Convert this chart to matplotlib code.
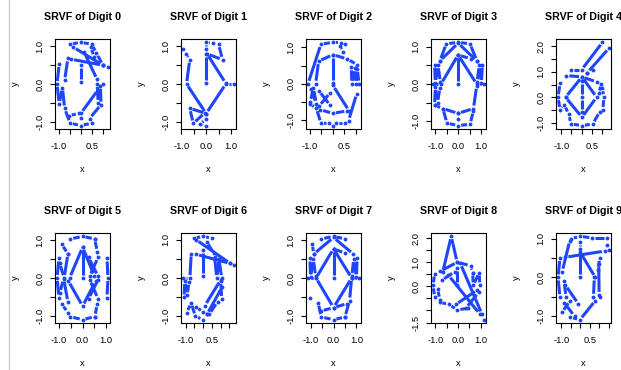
import numpy as np
import matplotlib
matplotlib.use('Agg')
import matplotlib.pyplot as plt
from matplotlib.collections import LineCollection
from matplotlib.ticker import MultipleLocator, FuncFormatter
from matplotlib.lines import Line2D

plt.rcParams['font.family'] = ['Liberation Sans', 'DejaVu Sans']

# SRVF values per digit, None = break between strokes
srvf0 = [(-0.5, 1.06), (0.0, 1.11), (0.5, 1.06), (0.72, 0.82), (1.02, 0.5), None,
         (-0.35, 0.98), (1.02, 0.5), (-0.45, 0.66), None,
         (1.02, 0.5), (1.25, 0.44), None,
         (0.0, 0.04), (0.0, 0.5), None,
         (0.15, 0.85), (0.75, 0.12), None,
         (0.45, 0.98), (0.62, 0.72), None,
         (1.04, 0.0), (0.75, 0.0), (0.8, -0.5), (0.9, -0.05), (0.93, -0.55), (0.4, -0.92),
         (0.5, -1.04), (0.0, -1.11), (-0.5, -1.04), (-0.75, -0.65), (-0.85, -0.1),
         (-1.0, -0.53), (-1.1, 0.0), (-1.0, 0.53), None,
         (-0.6, 0.68), (-0.75, 0.1), None,
         (0.0, -0.78), (0.8, -0.15), None,
         (-0.55, -0.85), (-0.1, -0.78), (0.0, -0.9)]

srvf1 = [(-0.93, 0.93), (-0.8, 0.8), (-0.66, 0.64), (-0.79, 0.0), (0.0, -0.78), (-0.66, -0.64),
         (-0.52, -1.04), (-0.05, -0.76), None,
         (-0.02, -0.93), (-0.25, -1.06), (0.0, -1.1), None,
         (0.0, -0.78), (0.79, 0.0), (1.12, 0.0), None,
         (0.79, 0.02), (0.03, 0.8), (0.66, 0.64), (0.5, 1.05), (0.27, 1.08), (0.0, 1.1),
         (0.0, 0.93), (0.0, 0.78), (0.0, 0.03)]

srvf2 = [(0.0, 0.01), (0.0, 0.8), (-0.62, 0.62), (-0.75, 0.0), None,
         (-1.08, 0.0), (-0.52, 1.09), (0.0, 1.14), (0.35, 1.13), (0.52, 1.1), None,
         (0.0, 0.8), (0.62, 0.68), (1.06, 0.52), None,
         (0.3, 1.05), (0.45, 0.88), None,
         (0.8, 0.45), (0.82, 0.0), (0.96, 0.42), (1.0, 0.0), (1.06, 0.4), (1.13, 0.0), None,
         (1.03, -0.28), (0.68, -1.02), (0.52, -1.1), (0.15, -1.1), (0.0, -1.16), (-0.15, -1.1),
         (-0.52, -1.09), (-0.72, -0.68), (-1.0, -0.56), None,
         (-0.95, -0.15), (-0.72, -0.55), (-0.85, -0.12), (-0.98, -0.5), None,
         (-0.6, -0.2), (-0.12, -0.6), None,
         (-0.6, -0.62), (-0.12, -0.25), None,
         (-0.55, -0.72), (0.0, -0.82), (0.62, -0.75), None,
         (0.0, -0.05), (0.7, -0.75)]

srvf3 = [(0.0, 0.01), (0.0, 0.78), (0.81, 0.0), (1.13, 0.0), None,
         (0.0, 0.78), (-0.75, 0.0), (-1.1, 0.0), None,
         (-1.03, 0.52), (-1.0, 0.03), (-0.88, 0.5), (-0.78, 0.05), None,
         (1.06, 0.52), (1.02, 0.03), (0.92, 0.5), (0.83, 0.05), None,
         (-0.8, 0.62), (-0.52, 1.08), (0.0, 1.12), (0.52, 1.08), (0.82, 0.62), None,
         (-0.8, 0.62), (0.0, 1.1), (0.82, 0.62), None,
         (0.0, 0.78), (0.55, 0.68), None,
         (-1.03, -0.57), (-1.0, -0.08), (-0.9, -0.5), (-0.8, -0.1), None,
         (-1.03, -0.57), (-0.67, -0.66), (-0.49, -1.05), (0.0, -1.12), (0.52, -1.08), (0.67, -0.72), None,
         (-0.67, -0.66), (0.0, -0.79), (0.67, -0.66), (0.81, -0.05), None,
         (0.0, -0.79), (0.0, -0.95)]

srvf4 = [(-0.52, 1.08), (0.0, 1.08), (1.03, 2.16), None,
         (0.29, 0.97), (1.35, 1.93), None,
         (0.29, 0.97), (0.55, 1.08), None,
         (-0.75, 0.85), (0.02, 0.8), (0.75, 0.6), None,
         (-1.06, 0.55), (-1.16, 0.0), (-1.06, -0.5), (-0.85, -0.3), (-0.63, -0.67), (-0.52, -1.05),
         (0.02, -1.12), (0.55, -1.05), (0.9, -0.57), None,
         (-0.79, 0.0), (0.02, 0.8), (0.74, 0.0), (0.02, -0.79), (-0.79, 0.0), None,
         (0.02, 0.62), (0.02, 0.0), (0.02, -0.6), None,
         (0.98, 0.53), (0.85, 0.15), (1.02, 0.35), (1.1, 0.0), (1.05, -0.5)]

srvf5 = [(-0.52, 1.04), (0.0, 1.11), (0.51, 1.04), None,
         (-0.88, 0.9), (-0.62, 0.64), None,
         (-1.0, 0.52), (-1.08, 0.0), (-1.0, -0.52), None,
         (-0.97, 0.4), (-0.78, 0.0), (-0.62, 0.64), None,
         (-0.55, 0.0), (0.0, 0.82), (0.5, 0.05), None,
         (0.0, 0.82), (0.0, 0.0), None,
         (0.25, 0.55), (0.65, 0.05), None,
         (0.65, 0.55), (0.3, 0.05), None,
         (0.51, 1.04), (0.62, 0.7), None,
         (1.03, 0.52), (1.07, 0.0), (1.03, -0.52), None,
         (-0.52, -1.03), (0.0, -1.11), (0.51, -1.03), None,
         (-0.88, -0.7), (-0.62, -0.92), None,
         (-0.97, -0.4), (-0.8, -0.02), (-0.62, -0.64), None,
         (-0.6, -0.08), (0.0, -0.75), (0.55, -0.08), None,
         (0.25, -0.55), (0.65, -0.05), None,
         (0.65, -0.55), (0.3, -0.05), None,
         (0.62, -0.7), (0.51, -1.03)]

srvf6 = [(-0.53, 1.04), (0.0, 1.09), (0.5, 1.04), None,
         (-0.4, 1.0), (1.55, 0.38), (-0.4, 0.62), None,
         (1.55, 0.38), (1.76, 0.33), None,
         (0.2, 0.95), (0.6, 0.65), None,
         (0.0, 0.72), (0.0, 0.05), None,
         (-0.68, 0.64), (-0.76, 0.0), (-1.15, 0.0), None,
         (-1.09, -0.51), (-1.05, -0.08), (-0.9, -0.45), (-0.82, -0.1), None,
         (-0.94, -0.91), (-0.68, -0.65), (-0.45, -1.0), (0.0, -1.09), None,
         (-0.4, -0.75), (0.0, -0.9), (0.22, -0.95), None,
         (0.1, -0.72), (1.0, -0.05), None,
         (0.22, -0.95), (1.08, -0.24), None,
         (0.65, 0.55), (0.78, 0.0), (0.9, 0.5), (1.06, 0.0), None,
         (1.0, -0.08), (1.06, -0.55), (0.82, -0.62), (0.35, -0.95)]

srvf7 = [(-0.53, 1.04), (0.0, 1.11), (0.5, 1.04), None,
         (-0.86, 0.64), (0.0, 1.08), (0.86, 0.64), None,
         (-0.93, 0.91), (-0.86, 0.64), None,
         (0.0, 0.78), (0.0, 0.01), None,
         (0.0, 0.78), (0.5, 0.66), None,
         (-1.03, 0.52), (-1.0, 0.02), (-0.88, 0.5), (-0.78, 0.05), None,
         (-1.11, 0.0), (-0.76, 0.0), (0.0, 0.78), (0.79, 0.0), (1.11, 0.0), None,
         (1.03, 0.52), (1.0, 0.02), (0.88, 0.5), (0.8, 0.05), None,
         (-0.76, 0.0), (0.0, -0.79), (0.79, 0.0), None,
         (0.79, 0.0), (0.7, -0.6), (0.5, -1.04), None,
         (-1.03, -0.52), None,
         (-0.67, -0.66), (-0.53, -1.04), (0.0, -1.11), (0.5, -1.04), None,
         (-0.55, -0.88), (0.0, -0.79), (0.6, -0.68)]

srvf8 = [(-0.67, 0.6), (-0.3, 2.07), (-0.04, 1.0), None,
         (-0.8, 0.62), (-0.03, 1.0), (0.55, 0.85), (0.64, 0.57), None,
         (0.64, 0.57), (0.67, 0.04), (0.93, 0.57), (0.96, 0.04), None,
         (-1.03, 0.53), (-1.1, 0.04), (-1.03, -0.45), None,
         (-0.72, 0.25), (-0.15, 0.6), None,
         (-0.06, 0.75), (-0.06, 0.04), None,
         (-0.42, 0.46), (0.96, -1.15), None,
         (0.1, 0.95), (1.05, -1.15), (1.14, -1.38), None,
         (-0.1, -0.75), (0.85, -0.15), None,
         (0.35, -0.9), (0.9, -0.25), None,
         (-0.81, -0.66), (-0.4, -0.75), (-0.03, -0.97), (0.45, -0.91), None,
         (-0.9, -0.1), (-0.8, -0.55)]

srvf9 = [(-0.49, 1.0), (-0.01, 1.06), (0.64, 1.02), (1.39, 1.02), None,
         (1.44, 0.84), (1.52, 0.7), None,
         (-0.78, 0.52), (1.3, 0.68), None,
         (-1.07, 0.5), (-1.17, 0.0), (-1.07, -0.51), None,
         (-0.95, 0.15), (-0.55, 0.95), None,
         (-0.01, 0.91), (-0.01, 0.74), (-0.01, 0.0), None,
         (0.0, 0.65), (0.8, 0.0), None,
         (1.04, 0.5), (0.92, 0.2), (0.98, 0.35), (1.0, -0.45), (1.04, -0.51), None,
         (0.75, 0.0), (0.7, -0.5), None,
         (-0.78, -0.2), (-0.1, -0.68), None,
         (-0.95, -0.9), (-0.55, -0.6), None,
         (-0.85, -0.65), (-0.3, -1.0), None,
         (-0.52, -1.03), (-0.01, -1.09), (0.8, -0.6), None,
         (-0.85, -0.1), (-0.75, -0.5)]

curves = [srvf0, srvf1, srvf2, srvf3, srvf4, srvf5, srvf6, srvf7, srvf8, srvf9]

# tick labels that R keeps (others dropped for overlap)
x_labels = [[-1.0, 0.5], [-1.0, 0.0, 1.0], [-1.0, 0.5], [-1.0, 0.0, 1.0], [-1.0, 0.5],
            [-1.0, 0.0, 1.0], [-1.0, 0.5], [-1.0, 0.0, 1.0], [-1.0, 0.0, 1.0], [-1.0, 0.5]]
y_labels = [[-1.0, 0.0, 1.0]] * 4 + [[-1.0, 0.0, 1.0, 2.0]] + [[-1.0, 0.0, 1.0]] * 3 + \
           [[-1.5, 0.0, 1.0, 2.0]] + [[-1.0, 0.0, 1.0]]

BLUE = '#1f45ff'
GAP = 3.0  # px gap round points (type = "b")
W, H = 621, 370
col_left = [55, 181, 306, 431, 556]
row_top = [39, 233]
bw, bh = 55, 90

fig = plt.figure(figsize=(W / 100, H / 100), dpi=100)
fig.add_artist(Line2D([9 / W, 9 / W], [0, 1], color='#cfcfcf', lw=1))


def split(curve):
    strokes, cur = [], []
    for p in curve:
        if p is None:
            strokes.append(cur)
            cur = []
        else:
            cur.append(p)
    if cur:
        strokes.append(cur)
    return [np.array(s, float) for s in strokes]


def fmt(keep):
    return FuncFormatter(lambda v, p: f'{v:.1f}' if any(abs(v - k) < 1e-6 for k in keep) else '')


for d in range(10):
    r, c = divmod(d, 5)
    ax = fig.add_axes([col_left[c] / W, 1 - (row_top[r] + bh) / H, bw / W, bh / H])
    strokes = split(curves[d])
    pts = np.vstack(strokes)
    lo, hi = pts.min(0), pts.max(0)
    pad = (hi - lo) * 0.04
    ax.set_xlim(lo[0] - pad[0], hi[0] + pad[0])
    ax.set_ylim(lo[1] - pad[1], hi[1] + pad[1])

    segs = []
    tr = ax.transData
    for s in strokes:
        px = tr.transform(s)
        for a, b in zip(px[:-1], px[1:]):
            v = b - a
            L = np.hypot(*v)
            if L <= 2 * GAP:
                continue
            u = v / L
            segs.append(tr.inverted().transform(np.array([a + u * GAP, b - u * GAP])))
    ax.add_collection(LineCollection(segs, colors=BLUE, linewidths=2.2, capstyle='butt'))
    ax.plot(pts[:, 0], pts[:, 1], 'o', ms=2.8, color=BLUE, mec='none')

    ax.xaxis.set_major_locator(MultipleLocator(0.5))
    ax.yaxis.set_major_locator(MultipleLocator(0.5))
    ax.xaxis.set_major_formatter(fmt(x_labels[d]))
    ax.yaxis.set_major_formatter(fmt(y_labels[d]))
    ax.tick_params(direction='out', length=3.6, width=0.8, labelsize=6.7, colors='black')
    ax.tick_params(axis='x', pad=5.5)
    ax.tick_params(axis='y', pad=4.0, labelrotation=90)
    for lab in ax.get_yticklabels():
        lab.set_va('center')
    for sp in ax.spines.values():
        sp.set_linewidth(0.8)

    ax.annotate(f'SRVF of Digit {d}', xy=(0.5, 1), xycoords='axes fraction',
                xytext=(0, 15.8), textcoords='offset points', ha='center', va='center',
                fontsize=7.7, fontweight='bold')
    ax.annotate('x', xy=(0.5, 0), xycoords='axes fraction', xytext=(0, -29.5),
                textcoords='offset points', ha='center', va='center', fontsize=6.7)
    ax.annotate('y', xy=(0, 0.5), xycoords='axes fraction', xytext=(-28.8, 0),
                textcoords='offset points', ha='center', va='center', fontsize=6.7, rotation=90)

fig.savefig('out.png', dpi=100)
